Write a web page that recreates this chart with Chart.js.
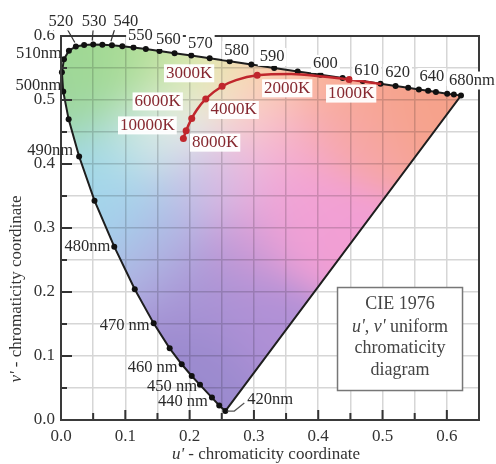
<!DOCTYPE html>
<html>
<head>
<meta charset="utf-8">
<script src="https://cdn.jsdelivr.net/npm/chart.js@4.4.1/dist/chart.umd.min.js"></script>
<style>
  html, body { margin: 0; padding: 0; background: #fff; }
  #wrap { width: 496px; height: 464px; }
</style>
</head>
<body>
<div id="wrap"><canvas id="cie" width="496" height="464"></canvas></div>
<script>
// Spectral locus (u', v')
const wavelengths = [420, 430, 440, 450, 455, 460, 465, 470, 475, 480, 485, 490, 495, 500, 505, 510, 515, 520, 525, 530, 535, 540, 545, 550, 555, 560, 565, 570, 575, 580, 585, 590, 595, 600, 605, 610, 615, 620, 625, 630, 635, 640, 650, 660, 680];
const locusU = [0.2555, 0.2461, 0.2347, 0.2161, 0.2033, 0.1877, 0.1690, 0.1441, 0.1147, 0.0828, 0.0521, 0.0282, 0.0119, 0.0035, 0.0014, 0.0046, 0.0123, 0.0231, 0.0360, 0.0501, 0.0643, 0.0792, 0.0953, 0.1127, 0.1319, 0.1531, 0.1766, 0.2026, 0.2312, 0.2623, 0.2960, 0.3315, 0.3681, 0.4035, 0.4379, 0.4692, 0.4968, 0.5203, 0.5399, 0.5565, 0.5709, 0.5830, 0.6005, 0.6109, 0.6220];
const locusV = [0.0140, 0.0226, 0.0350, 0.0549, 0.0688, 0.0871, 0.1120, 0.1510, 0.2044, 0.2708, 0.3427, 0.4117, 0.4698, 0.5131, 0.5432, 0.5638, 0.5770, 0.5837, 0.5861, 0.5868, 0.5865, 0.5856, 0.5841, 0.5821, 0.5796, 0.5766, 0.5732, 0.5694, 0.5651, 0.5604, 0.5554, 0.5501, 0.5446, 0.5393, 0.5342, 0.5296, 0.5254, 0.5219, 0.5190, 0.5165, 0.5143, 0.5125, 0.5099, 0.5084, 0.5070];

// Planckian locus
const temps = [10000, 8000, 6000, 5000, 4000, 3000, 2500, 2000, 1500, 1200, 1000, 800];
const planckU = [0.1903, 0.1946, 0.2033, 0.2114, 0.2251, 0.2505, 0.2722, 0.3051, 0.3579, 0.4062, 0.4481, 0.4980];
const planckV = [0.4400, 0.4521, 0.4712, 0.4847, 0.5016, 0.5214, 0.5311, 0.5386, 0.5405, 0.5367, 0.5319, 0.5250];
const markedTemps = [10000, 8000, 6000, 4000, 3000, 2000, 1000];

// Annotated wavelengths and temperatures
const waveLabels = ['520', '530', '540', '550', '560', '570', '580', '590', '600', '610', '620', '640', '680nm',
                    '510nm', '500nm', '490nm', '480nm', '470 nm', '460 nm', '450 nm', '440 nm', '420nm'];
const waveLabelNm = [520, 530, 540, 550, 560, 570, 580, 590, 600, 610, 620, 640, 680,
                     510, 500, 490, 480, 470, 460, 450, 440, 420];
const tempLabels = ['10000K', '8000K', '6000K', '4000K', '3000K', '2000K', '1000K'];

const SERIF = "'Liberation Serif', 'Times New Roman', serif";

// label placement: [dx, dy, align, leader]
const waveLayout = {
  520: [-15, -25, 'center', [6, 7]], 530: [1, -23, 'center', [-1, 7]], 540: [14, -24, 'center', [-11, 7]],
  550: [7, -12, 'center'], 560: [9, -11, 'center'], 570: [9, -12, 'center'], 580: [7, -11, 'center'],
  590: [-2, -11, 'center'], 600: [5, -11, 'center'], 610: [4, -10, 'center'], 620: [2, -13, 'center'],
  640: [-4, -15, 'center'], 680: [11, -15, 'center'],
  510: [-2, -5, 'right'], 500: [-2, -6, 'right'], 490: [-6, -6, 'right'], 480: [-4, 0, 'right'],
  470: [-4, 2, 'right'], 460: [-4, 3, 'right'], 450: [-3, 2, 'right'], 440: [-4, 4, 'right'],
  420: [22, -11, 'left']
};
const tempLayout = {
  10000: [-36, -13], 8000: [29, 12], 6000: [-34, -17], 4000: [28, 11],
  3000: [-33, -13], 2000: [30, 13], 1000: [2, 14]
};

// soft colour field for the gamut
const anchors = [
  [0.02, 0.50, 158, 214, 156], [0.05, 0.56, 158, 216, 146], [0.12, 0.56, 172, 220, 150],
  [0.19, 0.56, 204, 230, 166], [0.25, 0.55, 244, 232, 180], [0.33, 0.535, 252, 204, 162],
  [0.42, 0.52, 250, 176, 146], [0.52, 0.51, 246, 162, 138], [0.45, 0.46, 246, 166, 168],
  [0.36, 0.44, 244, 168, 206], [0.30, 0.48, 250, 210, 214], [0.19, 0.47, 242, 242, 238],
  [0.13, 0.44, 204, 232, 228], [0.05, 0.40, 160, 216, 234], [0.10, 0.33, 164, 210, 236],
  [0.16, 0.27, 176, 180, 226], [0.21, 0.37, 186, 192, 232], [0.27, 0.38, 236, 184, 224],
  [0.35, 0.33, 242, 164, 214], [0.28, 0.27, 200, 152, 214], [0.22, 0.20, 166, 146, 212],
  [0.22, 0.08, 154, 138, 206], [0.31, 0.15, 176, 144, 214], [0.40, 0.30, 242, 158, 212]
];

function blend(u, v) {
  let sw = 0, r = 0, g = 0, b = 0;
  for (const a of anchors) {
    const du = u - a[0], dv = v - a[1];
    const w = Math.exp(-(du * du + dv * dv) / 0.005) + 1e-12;
    sw += w; r += w * a[2]; g += w * a[3]; b += w * a[4];
  }
  return [r / sw, g / sw, b / sw];
}

function locusPath(ctx, x, y) {
  ctx.beginPath();
  locusU.forEach((u, i) => {
    const px = x.getPixelForValue(u), py = y.getPixelForValue(locusV[i]);
    if (i === 0) ctx.moveTo(px, py); else ctx.lineTo(px, py);
  });
  ctx.closePath();
}

const gamutFill = {
  id: 'gamutFill',
  beforeDatasetsDraw(chart) {
    const { ctx, chartArea: a, scales: { x, y } } = chart;
    const w = Math.round(a.right - a.left), h = Math.round(a.bottom - a.top);
    const off = document.createElement('canvas');
    off.width = w; off.height = h;
    const octx = off.getContext('2d');
    const img = octx.createImageData(w, h);
    for (let j = 0; j < h; j++) {
      const v = y.getValueForPixel(a.top + j + 0.5);
      for (let i = 0; i < w; i++) {
        const u = x.getValueForPixel(a.left + i + 0.5);
        const c = blend(u, v);
        const k = (j * w + i) * 4;
        img.data[k] = c[0]; img.data[k + 1] = c[1]; img.data[k + 2] = c[2]; img.data[k + 3] = 255;
      }
    }
    octx.putImageData(img, 0, 0);
    ctx.save();
    locusPath(ctx, x, y);
    ctx.clip();
    ctx.globalCompositeOperation = 'multiply';
    ctx.drawImage(off, a.left, a.top);
    ctx.restore();
  }
};

function label(ctx, s, px, py, align, font, color, bg) {
  ctx.font = font;
  if (bg) {
    const m = ctx.measureText(s).width;
    const l = align === 'left' ? px : align === 'right' ? px - m : px - m / 2;
    ctx.fillStyle = bg;
    ctx.fillRect(l - 2, py - 9, m + 4, 18);
  }
  ctx.fillStyle = color;
  ctx.textAlign = align;
  ctx.textBaseline = 'middle';
  ctx.fillText(s, px, py);
}

// mixed italic / upright text, centred on (cx, cy)
function mixed(ctx, parts, cx, cy, size, color) {
  const fonts = parts.map(p => (p[1] ? 'italic ' : '') + size + 'px ' + SERIF);
  let total = 0;
  const widths = parts.map((p, i) => { ctx.font = fonts[i]; const m = ctx.measureText(p[0]).width; total += m; return m; });
  let px = cx - total / 2;
  ctx.fillStyle = color;
  ctx.textAlign = 'left';
  ctx.textBaseline = 'middle';
  parts.forEach((p, i) => { ctx.font = fonts[i]; ctx.fillText(p[0], px, cy); px += widths[i]; });
}

const annotations = {
  id: 'annotations',
  afterDatasetsDraw(chart) {
    const { ctx, chartArea: a, scales: { x, y } } = chart;
    ctx.save();

    // inner ticks
    ctx.strokeStyle = '#333';
    ctx.lineWidth = 2;
    for (let i = 0; i <= 12; i++) {
      const py = y.getPixelForValue(i * 0.05), len = i % 2 === 0 ? 11 : 6;
      ctx.beginPath(); ctx.moveTo(a.left, py); ctx.lineTo(a.left + len, py); ctx.stroke();
    }
    for (let i = 0; i <= 13; i++) {
      const px = x.getPixelForValue(i * 0.05), len = i % 2 === 0 ? 10 : 7;
      ctx.beginPath(); ctx.moveTo(px, a.bottom); ctx.lineTo(px, a.bottom - len); ctx.stroke();
    }
    // frame
    ctx.strokeStyle = '#3a3a3a';
    ctx.strokeRect(a.left, a.top, a.right - a.left, a.bottom - a.top);

    // wavelength labels
    const wfont = '16.5px ' + SERIF;
    waveLabels.forEach((s, n) => {
      const nm = waveLabelNm[n];
      const i = wavelengths.indexOf(nm);
      const px = x.getPixelForValue(locusU[i]), py = y.getPixelForValue(locusV[i]);
      const [dx, dy, align, lead] = waveLayout[nm];
      const top = dy < -8 && align === 'center';
      if (lead) {
        ctx.strokeStyle = '#333'; ctx.lineWidth = 1.2;
        ctx.beginPath(); ctx.moveTo(px + dx + lead[0], py + dy + lead[1]); ctx.lineTo(px - 1, py - 4); ctx.stroke();
      }
      if (nm === 420) {
        ctx.strokeStyle = '#555'; ctx.lineWidth = 1.2;
        ctx.beginPath(); ctx.moveTo(px + 2, py); ctx.lineTo(px + 9, py); ctx.lineTo(px + 19, py - 8); ctx.stroke();
      }
      label(ctx, s, px + dx, py + dy, align, wfont, '#2a2a2a', top ? '#fff' : null);
    });

    // temperature labels
    const tfont = '17px ' + SERIF;
    tempLabels.forEach((s, n) => {
      const t = markedTemps[n];
      const i = temps.indexOf(t);
      const px = x.getPixelForValue(planckU[i]), py = y.getPixelForValue(planckV[i]);
      const [dx, dy] = tempLayout[t];
      label(ctx, s, px + dx, py + dy, 'center', tfont, '#862830', 'rgba(255,255,255,0.95)');
    });

    // legend box
    const bx = x.getPixelForValue(0.43), by = y.getPixelForValue(0.207);
    ctx.fillStyle = '#fff';
    ctx.fillRect(bx, by, 125, 103);
    ctx.strokeStyle = '#777'; ctx.lineWidth = 1.5;
    ctx.strokeRect(bx, by, 125, 103);
    const cx = bx + 62.5;
    mixed(ctx, [['CIE 1976', false]], cx, by + 17, 18, '#444');
    mixed(ctx, [["u'", true], [', ', false], ["v'", true], [' uniform', false]], cx, by + 40, 18, '#444');
    mixed(ctx, [['chromaticity', false]], cx, by + 61, 18, '#444');
    mixed(ctx, [['diagram', false]], cx, by + 83, 18, '#444');

    // axis titles
    mixed(ctx, [["u'", true], [' - chromaticity coordinate', false]], 266, 455, 17, '#333');
    ctx.translate(17, 289);
    ctx.rotate(-Math.PI / 2);
    mixed(ctx, [["v'", true], [' - chromaticity coordinate', false]], 0, 0, 17, '#333');
    ctx.restore();
  }
};

const tenth = v => Math.abs(v * 10 - Math.round(v * 10)) < 1e-6 ? v.toFixed(1) : '';

new Chart(document.getElementById('cie').getContext('2d'), {
  type: 'line',
  data: {
    datasets: [{
      label: 'Planckian locus',
      data: temps.map((t, i) => ({ x: planckU[i], y: planckV[i] })),
      borderColor: '#c0262c',
      backgroundColor: '#c0262c',
      borderWidth: 2.5,
      pointRadius: temps.map(t => markedTemps.includes(t) ? 3.5 : 0),
      pointBorderWidth: 0,
      cubicInterpolationMode: 'monotone',
      fill: false
    }, {
      label: 'Spectral locus',
      data: locusU.map((u, i) => ({ x: u, y: locusV[i] })).concat([{ x: locusU[0], y: locusV[0] }]),
      borderColor: '#1e1e1e',
      backgroundColor: '#111',
      borderWidth: 2,
      pointRadius: locusU.map(() => 3).concat([0]),
      pointBorderWidth: 0,
      tension: 0,
      fill: false,
      clip: false
    }]
  },
  options: {
    responsive: false,
    animation: false,
    devicePixelRatio: 1,
    layout: { padding: { left: 0, right: 17, top: 36, bottom: 0 } },
    plugins: { legend: { display: false }, tooltip: { enabled: false } },
    scales: {
      x: {
        type: 'linear', min: 0, max: 0.65,
        afterFit: s => { s.height = 44; },
        grid: { color: '#d6d6d6', lineWidth: 1.5, drawTicks: false },
        border: { display: false },
        ticks: { stepSize: 0.05, autoSkip: false, maxRotation: 0, padding: 6, color: '#333',
                 font: { family: SERIF, size: 17 }, callback: tenth }
      },
      y: {
        type: 'linear', min: 0, max: 0.6,
        afterFit: s => { s.width = 61; },
        grid: { color: '#d6d6d6', lineWidth: 1.5, drawTicks: false },
        border: { display: false },
        ticks: { stepSize: 0.05, autoSkip: false, padding: 6, color: '#333',
                 font: { family: SERIF, size: 17 }, callback: tenth }
      }
    }
  },
  plugins: [gamutFill, annotations]
});
</script>
</body>
</html>
